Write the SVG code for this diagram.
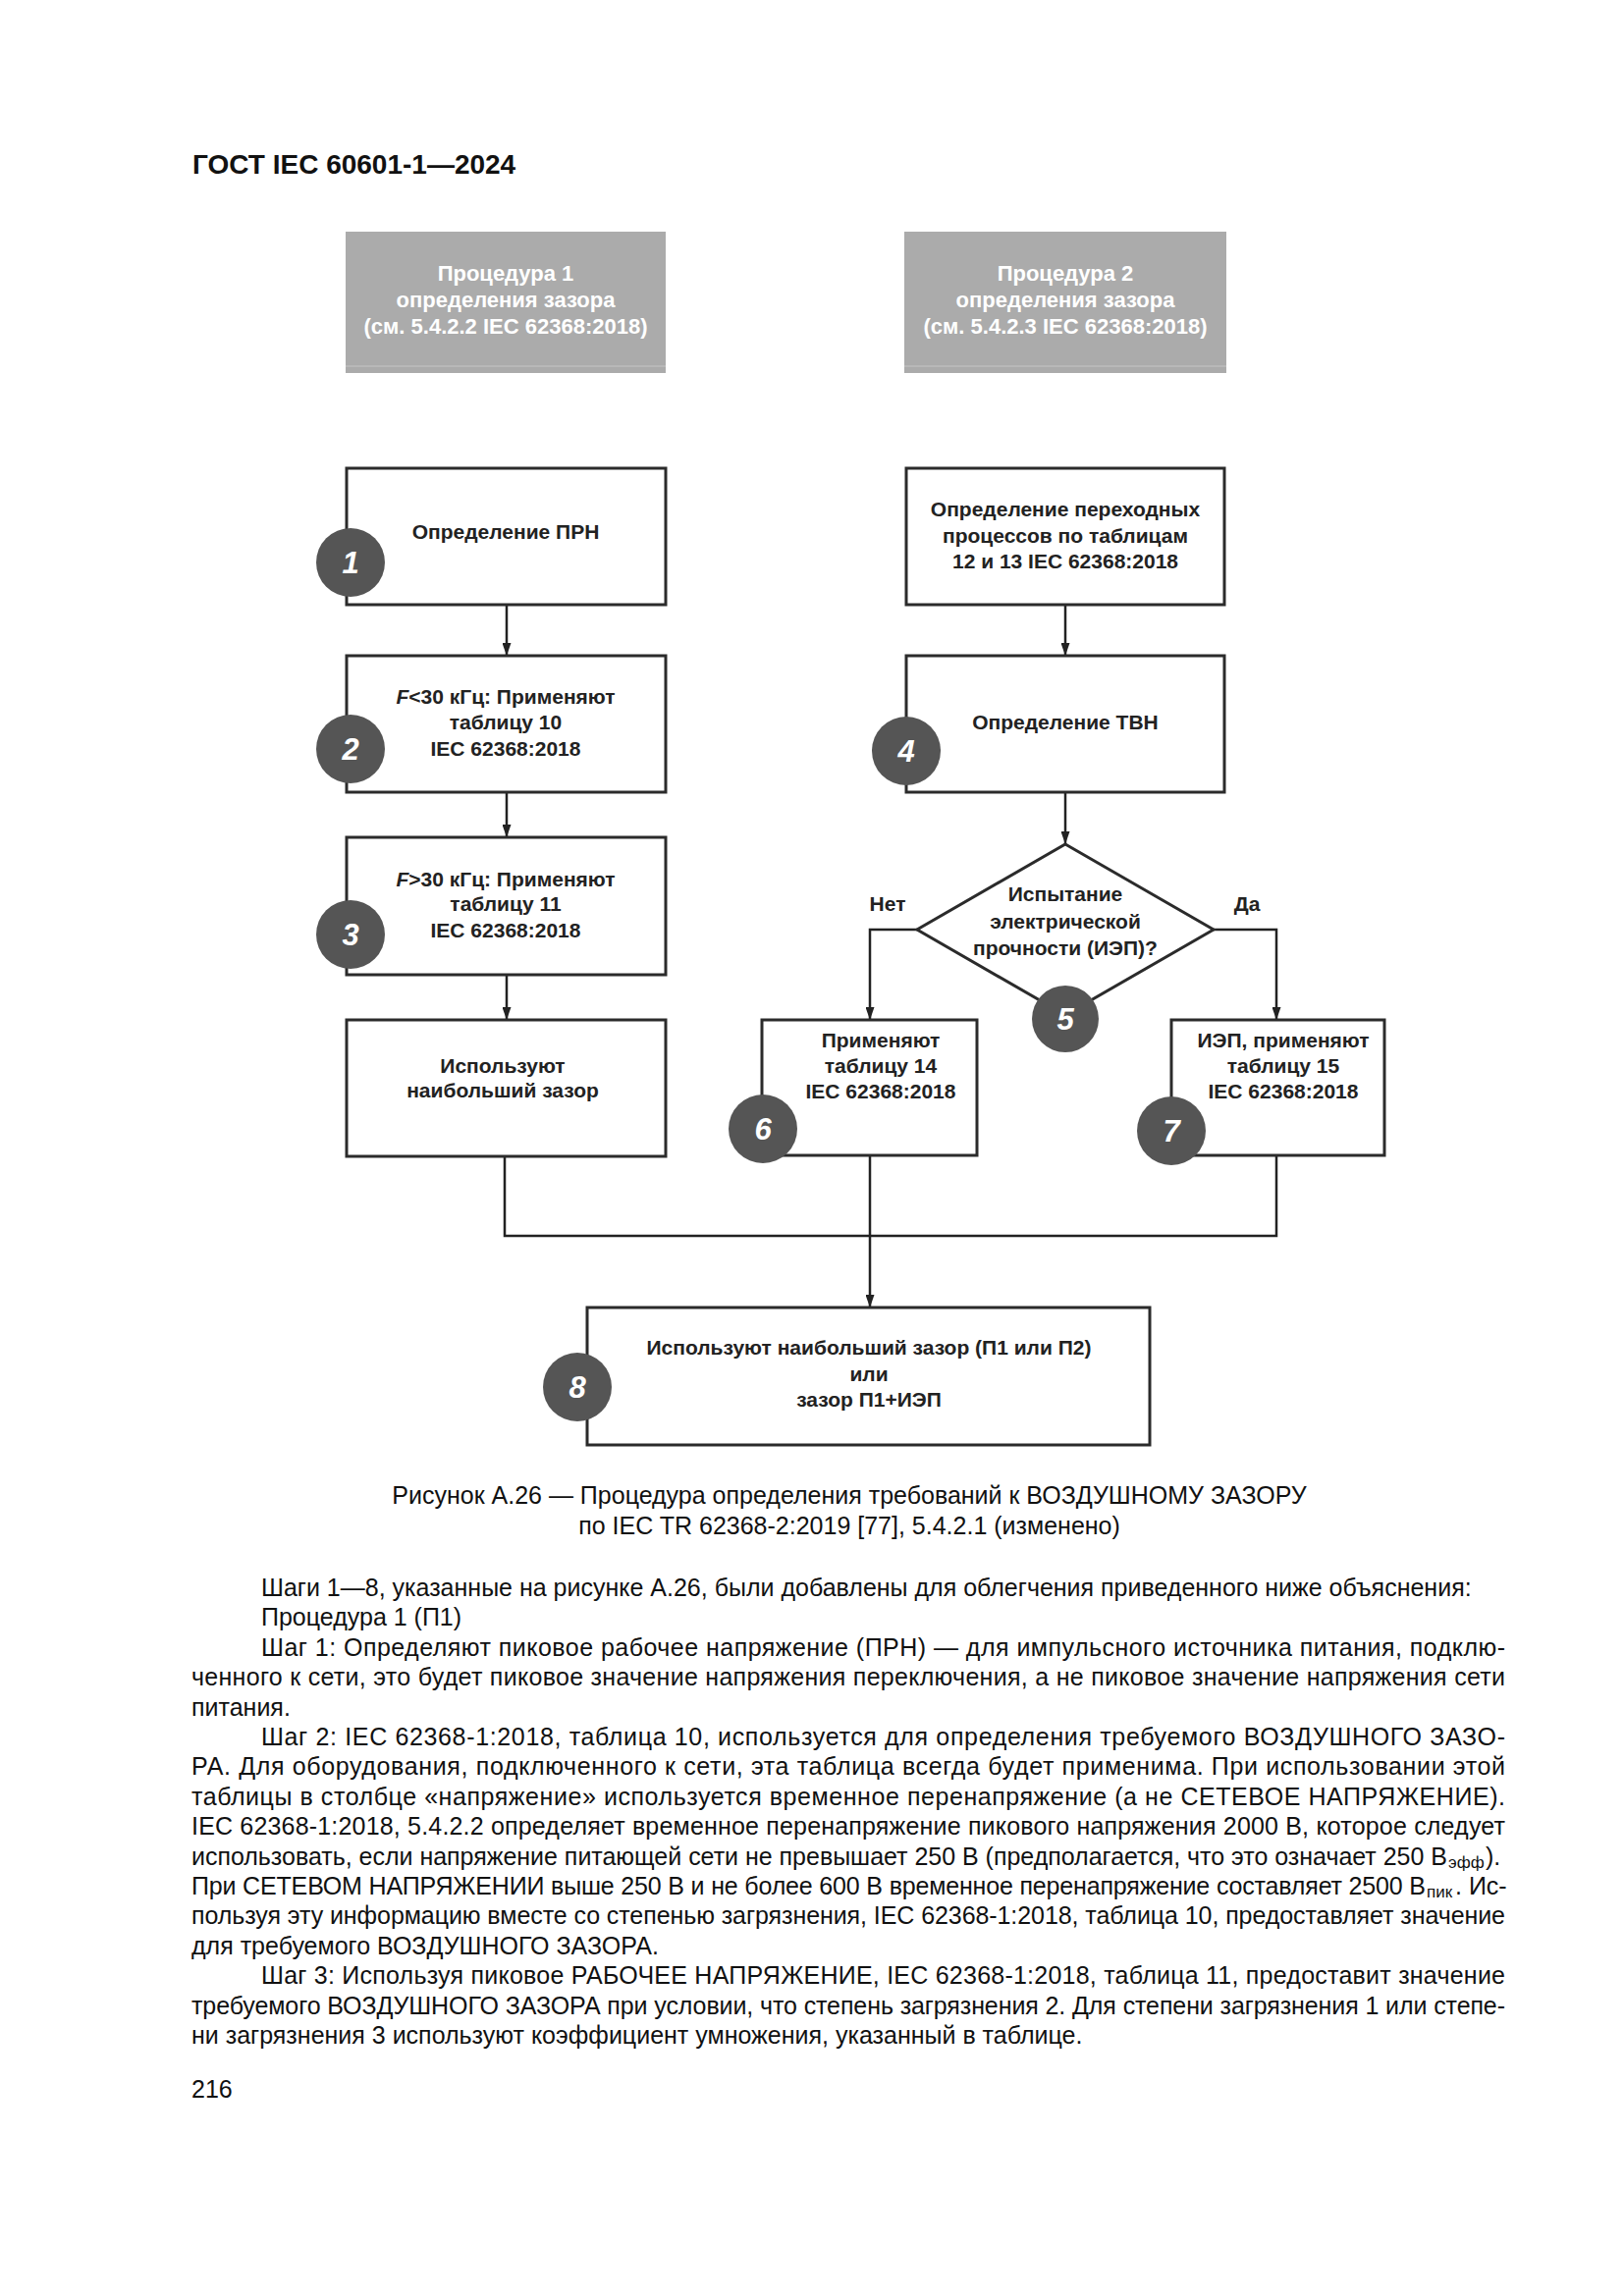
<svg xmlns="http://www.w3.org/2000/svg" width="1654" height="2339" viewBox="0 0 1654 2339">
<defs>
<marker id="arr" viewBox="0 0 13 9" refX="13" refY="4.5" markerWidth="13" markerHeight="9" markerUnits="userSpaceOnUse" orient="auto">
<path d="M0,0 L13,4.5 L0,9 z" fill="#222"/>
</marker>
<style>
.box{fill:#fff;stroke:#2b2b2b;stroke-width:3}
.grey{fill:#ababab}
.t{font-family:"Liberation Sans",Arial,sans-serif;font-weight:bold;font-size:21px;fill:#222;text-anchor:middle}
.gt{font-family:"Liberation Sans",Arial,sans-serif;font-weight:bold;font-size:22px;fill:#fff;text-anchor:middle}
.dot{fill:#555}
.n{font-family:"Liberation Sans",Arial,sans-serif;font-weight:bold;font-style:italic;font-size:31px;fill:#fff;text-anchor:middle}
.ln{fill:none;stroke:#222;stroke-width:2.5}
.body{font-family:"Liberation Sans",Arial,sans-serif;font-size:25px;fill:#111}
.cap{font-family:"Liberation Sans",Arial,sans-serif;font-size:25px;fill:#111;text-anchor:middle}
.sub{font-family:"Liberation Sans",Arial,sans-serif;font-size:17px;fill:#111}
.hdr{font-family:"Liberation Sans",Arial,sans-serif;font-weight:bold;font-size:28px;fill:#111}
</style>
</defs>
<rect width="1654" height="2339" fill="#fff"/>

<text class="hdr" x="196" y="177">ГОСТ IEC 60601-1—2024</text>

<g id="proc1">
<rect class="grey" x="352" y="236" width="326" height="144"/>
<line x1="352" y1="373" x2="678" y2="373" stroke="#bcbcbc" stroke-width="1.5"/>
<text class="gt" x="515" y="286">Процедура 1</text>
<text class="gt" x="515" y="313">определения зазора</text>
<text class="gt" x="515" y="340">(см. 5.4.2.2 IEC 62368:2018)</text>
</g>
<g id="proc2">
<rect class="grey" x="921" y="236" width="328" height="144"/>
<line x1="921" y1="373" x2="1249" y2="373" stroke="#bcbcbc" stroke-width="1.5"/>
<text class="gt" x="1085" y="286">Процедура 2</text>
<text class="gt" x="1085" y="313">определения зазора</text>
<text class="gt" x="1085" y="340">(см. 5.4.2.3 IEC 62368:2018)</text>
</g>

<g id="connectors">
<line class="ln" x1="516" y1="616" x2="516" y2="668" marker-end="url(#arr)"/>
<line class="ln" x1="516" y1="807" x2="516" y2="853" marker-end="url(#arr)"/>
<line class="ln" x1="516" y1="993" x2="516" y2="1039" marker-end="url(#arr)"/>
<line class="ln" x1="1085" y1="616" x2="1085" y2="668" marker-end="url(#arr)"/>
<line class="ln" x1="1085" y1="807" x2="1085" y2="860" marker-end="url(#arr)"/>
<polyline class="ln" points="934,947 886,947 886,1039" marker-end="url(#arr)"/>
<polyline class="ln" points="1236,947 1300,947 1300,1039" marker-end="url(#arr)"/>
<polyline class="ln" points="514,1178 514,1259 1300,1259 1300,1177"/>
<line class="ln" x1="886" y1="1177" x2="886" y2="1332" marker-end="url(#arr)"/>
</g>

<g id="n1">
<rect class="box" x="353" y="477" width="325" height="139"/>
<text class="t" x="515" y="549">Определение ПРН</text>
<circle class="dot" cx="357" cy="573" r="35"/>
<text class="n" x="357" y="584">1</text>
</g>
<g id="n2">
<rect class="box" x="353" y="668" width="325" height="139"/>
<text class="t" x="515" y="717"><tspan font-style="italic">F</tspan>&lt;30 кГц: Применяют</text>
<text class="t" x="515" y="743">таблицу 10</text>
<text class="t" x="515" y="770">IEC 62368:2018</text>
<circle class="dot" cx="357" cy="763" r="35"/>
<text class="n" x="357" y="774">2</text>
</g>
<g id="n3">
<rect class="box" x="353" y="853" width="325" height="140"/>
<text class="t" x="515" y="903"><tspan font-style="italic">F</tspan>&gt;30 кГц: Применяют</text>
<text class="t" x="515" y="928">таблицу 11</text>
<text class="t" x="515" y="955">IEC 62368:2018</text>
<circle class="dot" cx="357" cy="952" r="35"/>
<text class="n" x="357" y="963">3</text>
</g>
<g id="n3b">
<rect class="box" x="353" y="1039" width="325" height="139"/>
<text class="t" x="512" y="1093">Используют</text>
<text class="t" x="512" y="1118">наибольший зазор</text>
</g>
<g id="n_trans">
<rect class="box" x="923" y="477" width="324" height="139"/>
<text class="t" x="1085" y="526">Определение переходных</text>
<text class="t" x="1085" y="553">процессов по таблицам</text>
<text class="t" x="1085" y="579">12 и 13 IEC 62368:2018</text>
</g>
<g id="n4">
<rect class="box" x="923" y="668" width="324" height="139"/>
<text class="t" x="1085" y="743">Определение ТВН</text>
<circle class="dot" cx="923" cy="765" r="35"/>
<text class="n" x="923" y="776">4</text>
</g>
<g id="n5">
<polygon class="box" points="1085,860 1236,947 1085,1034 934,947"/>
<text class="t" x="1085" y="918">Испытание</text>
<text class="t" x="1085" y="946">электрической</text>
<text class="t" x="1085" y="973">прочности (ИЭП)?</text>
<text class="t" x="904" y="928">Нет</text>
<text class="t" x="1270" y="928">Да</text>
<circle class="dot" cx="1085" cy="1038" r="34"/>
<text class="n" x="1085" y="1049">5</text>
</g>
<g id="n6">
<rect class="box" x="776" y="1039" width="219" height="138"/>
<text class="t" x="897" y="1067">Применяют</text>
<text class="t" x="897" y="1093">таблицу 14</text>
<text class="t" x="897" y="1119">IEC 62368:2018</text>
<circle class="dot" cx="777" cy="1150" r="35"/>
<text class="n" x="777" y="1161">6</text>
</g>
<g id="n7">
<rect class="box" x="1193" y="1039" width="217" height="138"/>
<text class="t" x="1307" y="1067">ИЭП, применяют</text>
<text class="t" x="1307" y="1093">таблицу 15</text>
<text class="t" x="1307" y="1119">IEC 62368:2018</text>
<circle class="dot" cx="1193" cy="1152" r="35"/>
<text class="n" x="1193" y="1163">7</text>
</g>
<g id="n8">
<rect class="box" x="598" y="1332" width="573" height="140"/>
<text class="t" x="885" y="1380">Используют наибольший зазор (П1 или П2)</text>
<text class="t" x="885" y="1407">или</text>
<text class="t" x="885" y="1433">зазор П1+ИЭП</text>
<circle class="dot" cx="588" cy="1413" r="35"/>
<text class="n" x="588" y="1424">8</text>
</g>

<g id="caption">
<text class="cap" x="865" y="1532">Рисунок А.26 — Процедура определения требований к ВОЗДУШНОМУ ЗАЗОРУ</text>
<text class="cap" x="865" y="1563">по IEC TR 62368-2:2019 [77], 5.4.2.1 (изменено)</text>
</g>

<g id="bodytext">
<text class="body" x="266" y="1626">Шаги 1—8, указанные на рисунке А.26, были добавлены для облегчения приведенного ниже объяснения:</text>
<text class="body" x="266" y="1656">Процедура 1 (П1)</text>
<text class="body" x="266" y="1687" textLength="1267" lengthAdjust="spacing">Шаг 1: Определяют пиковое рабочее напряжение (ПРН) — для импульсного источника питания, подклю-</text>
<text class="body" x="195" y="1717" textLength="1338" lengthAdjust="spacing">ченного к сети, это будет пиковое значение напряжения переключения, а не пиковое значение напряжения сети</text>
<text class="body" x="195" y="1748">питания.</text>
<text class="body" x="266" y="1778" textLength="1267" lengthAdjust="spacing">Шаг 2: IEC 62368-1:2018, таблица 10, используется для определения требуемого ВОЗДУШНОГО ЗАЗО-</text>
<text class="body" x="195" y="1808" textLength="1338" lengthAdjust="spacing">РА. Для оборудования, подключенного к сети, эта таблица всегда будет применима. При использовании этой</text>
<text class="body" x="195" y="1839" textLength="1338" lengthAdjust="spacing">таблицы в столбце «напряжение» используется временное перенапряжение (а не СЕТЕВОЕ НАПРЯЖЕНИЕ).</text>
<text class="body" x="195" y="1869" textLength="1338" lengthAdjust="spacing">IEC 62368-1:2018, 5.4.2.2 определяет временное перенапряжение пикового напряжения 2000 В, которое следует</text>
<text class="body" x="195" y="1900" textLength="1279" lengthAdjust="spacing">использовать, если напряжение питающей сети не превышает 250 В (предполагается, что это означает 250 В</text>
<text class="sub" x="1475" y="1903">эфф</text>
<text class="body" x="1513" y="1900">).</text>
<text class="body" x="195" y="1930" textLength="1257" lengthAdjust="spacing">При СЕТЕВОМ НАПРЯЖЕНИИ выше 250 В и не более 600 В временное перенапряжение составляет 2500 В</text>
<text class="sub" x="1453" y="1933">пик</text>
<text class="body" x="1482" y="1930">. Ис-</text>
<text class="body" x="195" y="1960" textLength="1338" lengthAdjust="spacing">пользуя эту информацию вместе со степенью загрязнения, IEC 62368-1:2018, таблица 10, предоставляет значение</text>
<text class="body" x="195" y="1991">для требуемого ВОЗДУШНОГО ЗАЗОРА.</text>
<text class="body" x="266" y="2021" textLength="1267" lengthAdjust="spacing">Шаг 3: Используя пиковое РАБОЧЕЕ НАПРЯЖЕНИЕ, IEC 62368-1:2018, таблица 11, предоставит значение</text>
<text class="body" x="195" y="2052" textLength="1338" lengthAdjust="spacing">требуемого ВОЗДУШНОГО ЗАЗОРА при условии, что степень загрязнения 2. Для степени загрязнения 1 или степе-</text>
<text class="body" x="195" y="2082">ни загрязнения 3 используют коэффициент умножения, указанный в таблице.</text>
<text class="body" x="195" y="2137">216</text>
</g>
</svg>
